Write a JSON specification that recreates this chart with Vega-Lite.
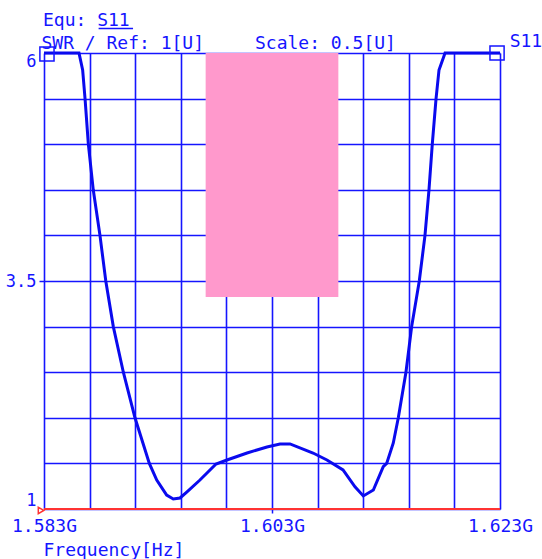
{
  "$schema": "https://vega.github.io/schema/vega-lite/v6.json",
  "autosize": "none",
  "width": 456,
  "height": 456,
  "padding": {"left": 44, "top": 53, "right": 42, "bottom": 50},
  "background": "white",
  "config": {"view": {"stroke": null}},
  "datasets": {
    "curve": [
      {"f": 1.583, "v": 6.0},
      {"f": 1.58607, "v": 6.0},
      {"f": 1.58639, "v": 5.814},
      {"f": 1.5866, "v": 5.5},
      {"f": 1.58689, "v": 5.0},
      {"f": 1.58732, "v": 4.5},
      {"f": 1.58791, "v": 4.0},
      {"f": 1.58842, "v": 3.5},
      {"f": 1.58908, "v": 3.0},
      {"f": 1.58996, "v": 2.5},
      {"f": 1.59098, "v": 2.0},
      {"f": 1.59224, "v": 1.5},
      {"f": 1.59289, "v": 1.318},
      {"f": 1.59376, "v": 1.153},
      {"f": 1.59434, "v": 1.11},
      {"f": 1.59493, "v": 1.121},
      {"f": 1.59552, "v": 1.186},
      {"f": 1.59668, "v": 1.318},
      {"f": 1.59809, "v": 1.493},
      {"f": 1.59905, "v": 1.537},
      {"f": 1.60081, "v": 1.614},
      {"f": 1.60256, "v": 1.68},
      {"f": 1.6037, "v": 1.713},
      {"f": 1.60458, "v": 1.713},
      {"f": 1.6066, "v": 1.614},
      {"f": 1.60782, "v": 1.537},
      {"f": 1.60923, "v": 1.428},
      {"f": 1.61028, "v": 1.244},
      {"f": 1.61101, "v": 1.143},
      {"f": 1.61189, "v": 1.208},
      {"f": 1.61276, "v": 1.464},
      {"f": 1.61306, "v": 1.5},
      {"f": 1.61364, "v": 1.724},
      {"f": 1.61408, "v": 2.0},
      {"f": 1.61475, "v": 2.5},
      {"f": 1.61525, "v": 3.0},
      {"f": 1.61592, "v": 3.5},
      {"f": 1.61642, "v": 4.0},
      {"f": 1.61677, "v": 4.5},
      {"f": 1.61706, "v": 5.0},
      {"f": 1.61739, "v": 5.5},
      {"f": 1.61765, "v": 5.814},
      {"f": 1.61818, "v": 6.0},
      {"f": 1.623, "v": 6.0}
    ],
    "band": [{"f": 1.59718, "f2": 1.60882, "v": 3.325, "v2": 6.0}],
    "base": [{"f": 1.583, "f2": 1.623, "v": 1.0}],
    "markers": [{"f": 1.58326, "v": 5.989}, {"f": 1.62274, "v": 6.0}],
    "tri": [{"f": 1.58274, "v": 0.984}],
    "texts": [
      {"label": "Equ: S11", "f": 1.58291, "v": 6.296},
      {"label": "SWR / Ref: 1[U]", "f": 1.58278, "v": 6.044},
      {"label": "Scale: 0.5[U]", "f": 1.60151, "v": 6.044},
      {"label": "S11", "f": 1.62385, "v": 6.066}
    ],
    "underline": [{"f": 1.58779, "f2": 1.59081, "v": 6.27}]
  },
  "encoding": {
    "x": {
      "field": "f", "type": "quantitative",
      "scale": {"domain": [1.583, 1.623], "nice": false, "zero": false},
      "axis": {
        "values": [1.583, 1.587, 1.591, 1.595, 1.599, 1.603, 1.607, 1.611, 1.615, 1.619, 1.623],
        "grid": true, "gridColor": "#1515ff", "gridWidth": 1.6, "gridOpacity": 1,
        "domain": false,
        "ticks": true, "tickSize": 4, "tickColor": "#1515ff", "tickWidth": 1.5,
        "tickOpacity": {"condition": {"test": "abs(datum.value-1.603)<1e-6", "value": 1}, "value": 0},
        "labelExpr": "abs(datum.value-1.583)<1e-6 ? '1.583G' : abs(datum.value-1.603)<1e-6 ? '1.603G' : abs(datum.value-1.623)<1e-6 ? '1.623G' : ''",
        "labelFont": "DejaVu Sans Mono", "labelFontSize": 18, "labelColor": "#1515ff",
        "labelPadding": 4, "labelOverlap": false, "labelFlush": false, "labelBound": false,
        "title": "Frequency[Hz]", "titleFont": "DejaVu Sans Mono", "titleFontSize": 18,
        "titleFontWeight": "normal", "titleColor": "#1515ff",
        "titleX": -1, "titleY": 46, "titleAlign": "left", "titleBaseline": "alphabetic", "titleAnchor": "start"
      }
    },
    "y": {
      "field": "v", "type": "quantitative",
      "scale": {"domain": [1, 6], "nice": false, "zero": false},
      "axis": {
        "values": [1, 1.5, 2, 2.5, 3, 3.5, 4, 4.5, 5, 5.5, 6],
        "grid": true, "gridColor": "#1515ff", "gridWidth": 1.6, "gridOpacity": 1,
        "domain": false,
        "ticks": true, "tickSize": 5, "tickColor": "#1515ff", "tickWidth": 1.5,
        "tickOpacity": {"condition": {"test": "datum.value==3.5", "value": 1}, "value": 0},
        "labelExpr": "datum.value==1 ? '1' : datum.value==3.5 ? '3.5' : datum.value==6 ? '6' : ''",
        "labelFont": "DejaVu Sans Mono", "labelFontSize": 17, "labelColor": "#1515ff",
        "labelPadding": 3, "labelFlush": true, "labelOverlap": false, "labelBound": false,
        "title": null
      }
    }
  },
  "layer": [
    {
      "data": {"name": "curve"},
      "mark": {"type": "line", "color": "#0a0aee", "strokeWidth": 3, "clip": false}
    },
    {
      "data": {"name": "band"},
      "mark": {"type": "rect", "color": "#ff99cc", "opacity": 1},
      "encoding": {
        "x2": {"field": "f2"},
        "y2": {"field": "v2"}
      }
    },
    {
      "data": {"name": "base"},
      "mark": {"type": "rule", "color": "#ff3333", "strokeWidth": 2},
      "encoding": {
        "x2": {"field": "f2"}
      }
    },
    {
      "data": {"name": "markers"},
      "mark": {"type": "point", "shape": "square", "filled": false, "size": 200, "color": "#1515ff", "strokeWidth": 1.5, "opacity": 1, "clip": false}
    },
    {
      "data": {"name": "tri"},
      "mark": {"type": "point", "shape": "triangle-right", "filled": false, "size": 40, "color": "#ff3333", "strokeWidth": 1.5, "opacity": 1, "clip": false}
    },
    {
      "data": {"name": "underline"},
      "mark": {"type": "rule", "color": "#1515ff", "strokeWidth": 1.5, "clip": false},
      "encoding": {
        "x2": {"field": "f2"}
      }
    },
    {
      "data": {"name": "texts"},
      "mark": {"type": "text", "align": "left", "baseline": "alphabetic", "font": "DejaVu Sans Mono", "fontSize": 18, "color": "#1515ff", "clip": false},
      "encoding": {
        "text": {"field": "label"}
      }
    }
  ]
}
